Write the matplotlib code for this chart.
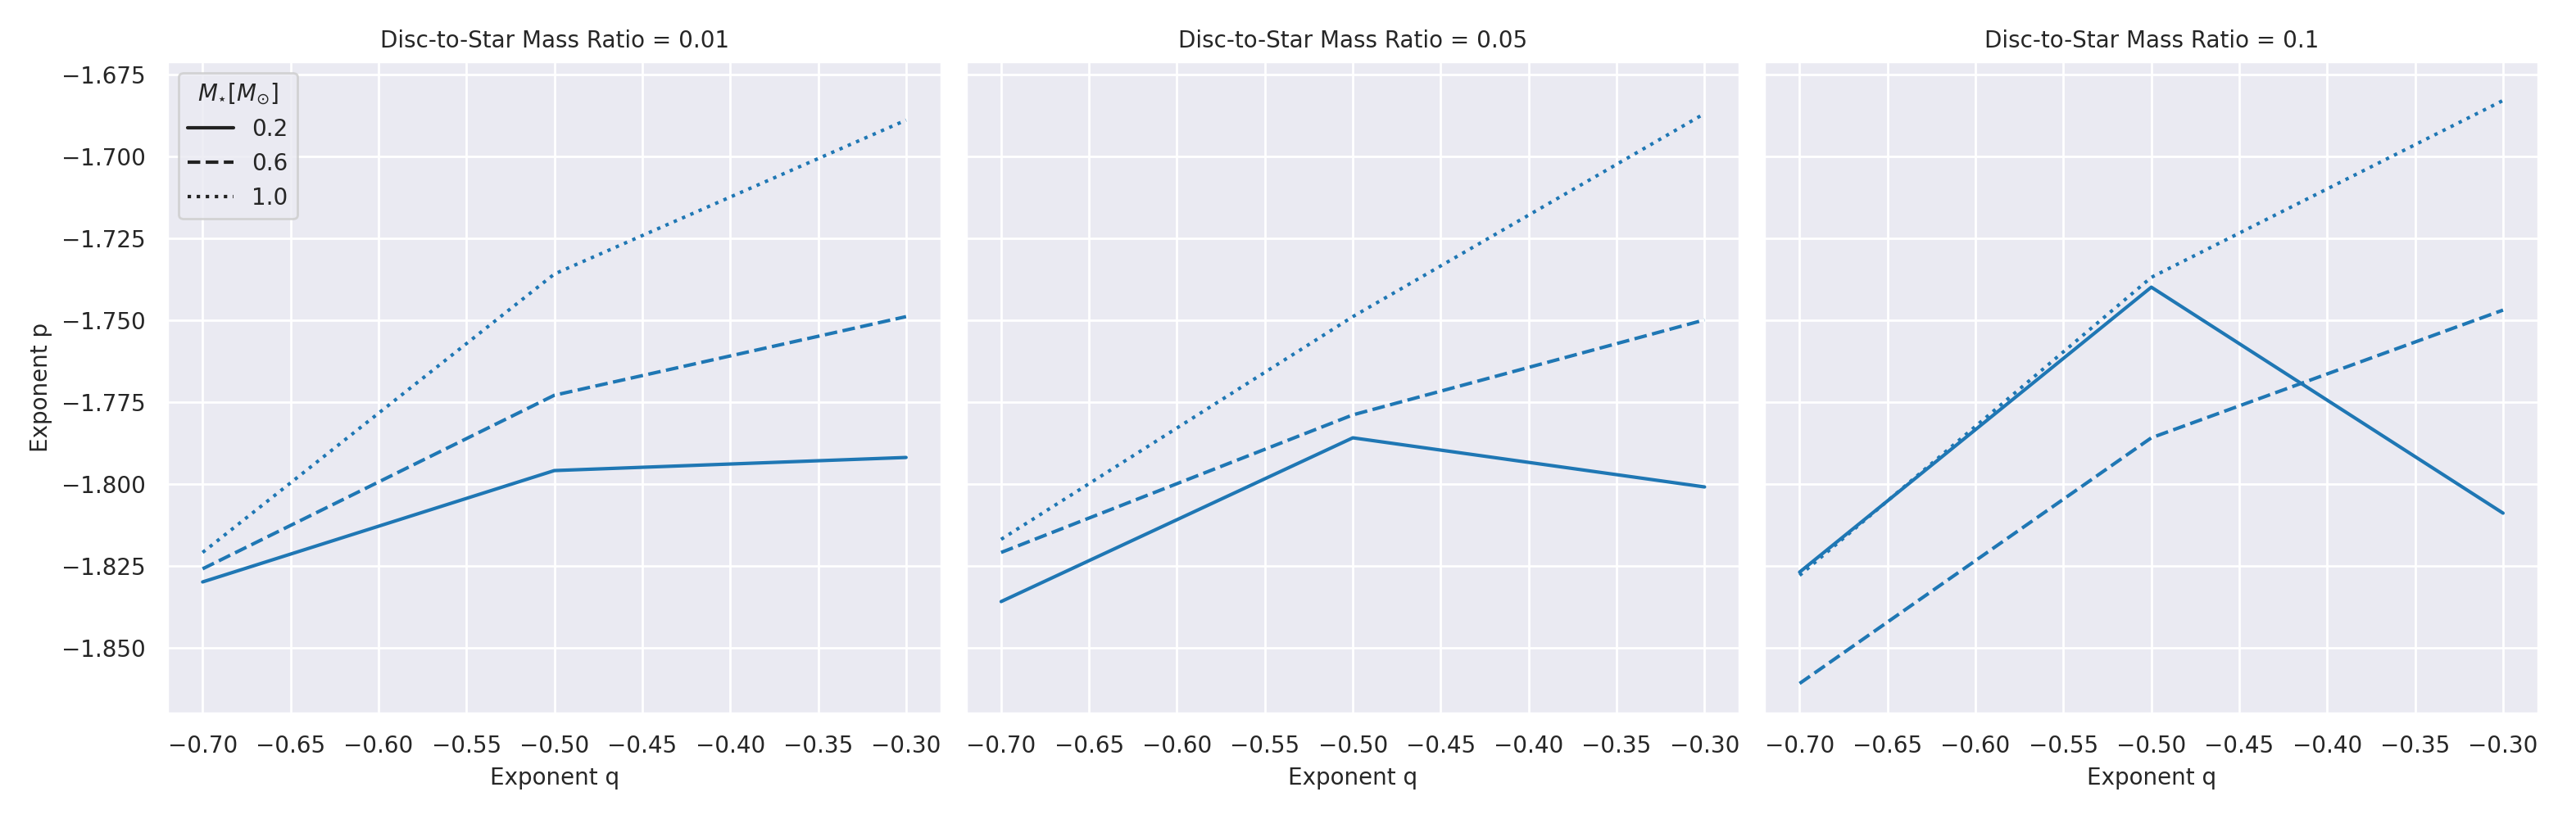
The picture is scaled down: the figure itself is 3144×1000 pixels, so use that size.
import matplotlib
matplotlib.use("Agg")
import matplotlib.pyplot as plt
import seaborn as sns

sns.set_theme(style="darkgrid")

q = [-0.7, -0.5, -0.3]
ratios = ["0.01", "0.05", "0.1"]
masses = ["0.2", "0.6", "1.0"]
styles = ["-", "--", ":"]

# p values per ratio, per stellar mass
p_vals = {
    "0.01": {"0.2": [-1.830, -1.796, -1.792],
             "0.6": [-1.826, -1.773, -1.749],
             "1.0": [-1.821, -1.736, -1.689]},
    "0.05": {"0.2": [-1.836, -1.786, -1.801],
             "0.6": [-1.821, -1.779, -1.750],
             "1.0": [-1.817, -1.749, -1.687]},
    "0.1": {"0.2": [-1.827, -1.740, -1.809],
            "0.6": [-1.861, -1.786, -1.747],
            "1.0": [-1.828, -1.737, -1.683]},
}

fig, axes = plt.subplots(1, 3, figsize=(15.72, 5), dpi=200, sharey=True)
for ax, r in zip(axes, ratios):
    for m, ls in zip(masses, styles):
        ax.plot(q, p_vals[r][m], color="#1f77b4", linestyle=ls, label=m)
    ax.set_title(f"Disc-to-Star Mass Ratio = {r}", fontsize=10)
    ax.set_xlabel("Exponent q", fontsize=10)
    ax.set_xticks([-0.7, -0.65, -0.6, -0.55, -0.5, -0.45, -0.4, -0.35, -0.3])
    ax.set_xticklabels([f"{t:.2f}".replace("-", "\u2212") for t in ax.get_xticks()])
    ax.tick_params(labelsize=10)
axes[0].set_ylabel("Exponent p", fontsize=10)
axes[0].set_ylim(-1.870, -1.671)
axes[0].set_yticks([-1.850, -1.825, -1.800, -1.775, -1.750, -1.725, -1.700, -1.675])
axes[0].set_yticklabels([f"{t:.3f}".replace("-", "\u2212") for t in axes[0].get_yticks()])

leg_handles = [plt.Line2D([], [], color="#222222", linestyle=ls) for ls in styles]
axes[0].legend(leg_handles, masses, title=r"$M_{\star}[M_{\odot}]$", loc="upper left",
               fontsize=10, title_fontsize=10)

plt.tight_layout(w_pad=0.3)
plt.savefig("out.png")
